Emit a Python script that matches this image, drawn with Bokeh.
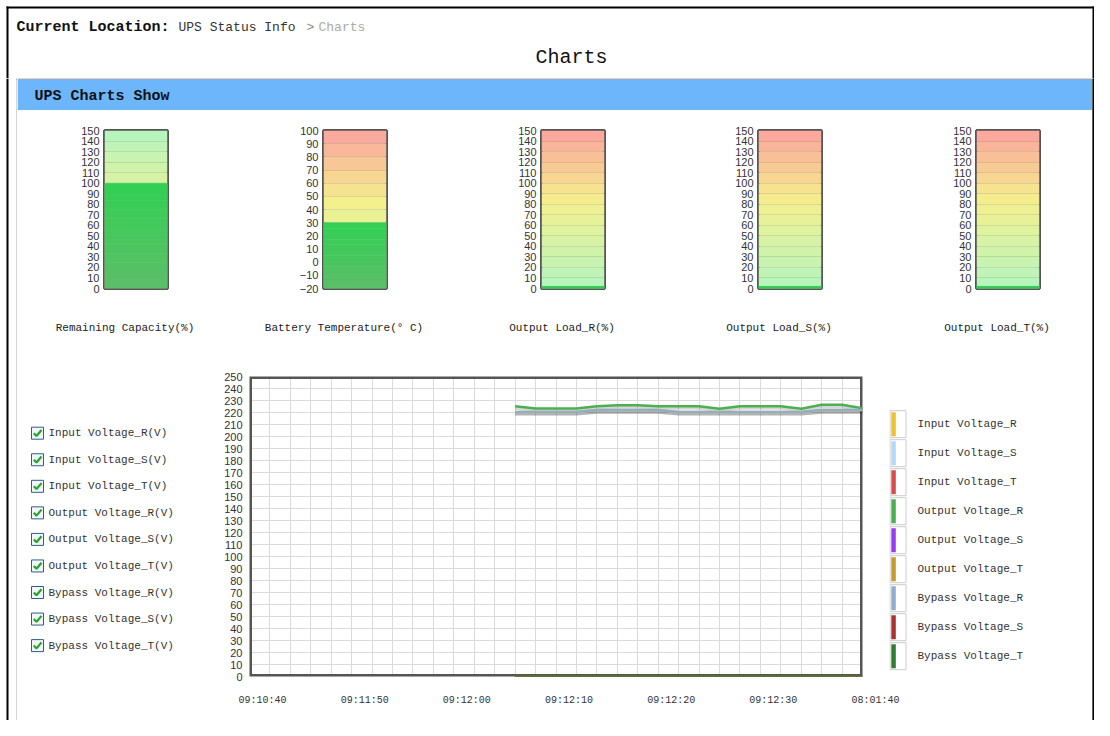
from bokeh.plotting import figure
from bokeh.layouts import row, column
from bokeh.models import Range1d, FixedTicker
from bokeh.core.properties import value
from bokeh.embed import file_html
from bokeh.resources import INLINE

# ---------------- data ----------------
gauge_titles = ["Remaining Capacity(%)", "Battery Temperature(\u00b0 C)",
                "Output Load_R(%)", "Output Load_S(%)", "Output Load_T(%)"]
gauge_values = [100, 30, 2, 2, 2]
gauge_min = [0, -20, 0, 0, 0]
gauge_max = [150, 100, 150, 150, 150]
gauge_step = 10

series_names = ["Input Voltage_R", "Input Voltage_S", "Input Voltage_T",
                "Output Voltage_R", "Output Voltage_S", "Output Voltage_T",
                "Bypass Voltage_R", "Bypass Voltage_S", "Bypass Voltage_T"]
series_colors = ["#f2c12e", "#b3d9f7", "#d94c4c", "#4caf50", "#9b3af7",
                 "#c49b2c", "#8eaed0", "#aa3333", "#2e7d32"]

slot_count = 30
sample_index = list(range(13, 31))
input_voltage_r = [220.5, 220.5, 220.5, 220.5, 222, 222, 222, 222, 220.5, 220.5,
                   220.5, 220.5, 220.5, 220.5, 220.5, 222, 222, 222]
input_voltage_s = [0] * 18
input_voltage_t = [0] * 18
output_voltage_r = [225.3, 223.3, 223.3, 223.3, 225.3, 226.1, 226.1, 225.3, 225.3,
                    225.3, 223.1, 225.3, 225.3, 225.3, 223.1, 226.4, 226.4, 223.6]
output_voltage_s = [0] * 18
output_voltage_t = [0] * 18
bypass_voltage_r = [220.5, 220.5, 220.5, 220.5, 222, 222, 222, 222, 220.5, 220.5,
                    220.5, 220.5, 220.5, 220.5, 220.5, 222, 222, 222]
bypass_voltage_s = [0] * 18
bypass_voltage_t = [0] * 18
series_values = [input_voltage_r, input_voltage_s, input_voltage_t,
                 output_voltage_r, output_voltage_s, output_voltage_t,
                 bypass_voltage_r, bypass_voltage_s, bypass_voltage_t]

chart_y_min, chart_y_max = 0, 250
chart_y_ticks = list(range(0, 251, 10))
x_tick_positions = [0, 5, 10, 15, 20, 25, 30]
x_tick_labels = ["09:10:40", "09:11:50", "09:12:00", "09:12:10",
                 "09:12:20", "09:12:30", "08:01:40"]

MONO = "Liberation Mono"
SANS = "Liberation Sans"


def canvas(w, h, bg="white"):
    p = figure(width=w, height=h, x_range=Range1d(0, w), y_range=Range1d(h, 0),
               x_axis_type=None, y_axis_type=None, toolbar_location=None, tools="",
               output_backend="svg", min_border=0, title=None)
    p.outline_line_color = None
    p.background_fill_color = bg
    p.border_fill_color = bg
    return p


def txt(p, x, y, s, size, color="#222", bold=False, align="left", font=MONO):
    p.text(x=[x], y=[y], text=[s], text_font=value(font), text_font_size=size,
           text_font_style="bold" if bold else "normal", text_color=color,
           text_align=align, text_baseline="middle")


def quiet_axis(ax, font, size, standoff):
    ax.major_tick_out = 0
    ax.major_tick_in = 0
    ax.minor_tick_out = 0
    ax.minor_tick_in = 0
    ax.axis_line_color = None
    ax.major_label_standoff = standoff
    ax.major_label_text_font = font
    ax.major_label_text_font_size = size
    ax.major_label_text_color = "#333333"


# ---------------- header (y 0..78) ----------------
hdr = canvas(1094, 78)
hdr.quad(left=[6, 6, 1092], right=[1094, 8, 1094], top=[6, 6, 6], bottom=[8, 78, 78],
         fill_color="black", line_color=None)
txt(hdr, 16, 27, "Current Location:", "15px", "#111", bold=True)
txt(hdr, 178, 27, "UPS Status Info", "13px", "#333")
txt(hdr, 306, 27, ">", "13px", "#888")
txt(hdr, 318, 27, "Charts", "13px", "#aaa")
txt(hdr, 571, 57, "Charts", "20px", "#111", align="center")

# ---------------- side strips (y 78..720) ----------------
lstrip = canvas(17, 642)
lstrip.quad(left=[6, 16, 16], right=[8, 17, 17], top=[0, 0, 0], bottom=[642, 642, 1],
            fill_color=["black", "#b0b0b0", "#5a5a5a"], line_color=None)
rstrip = canvas(2, 642, bg="black")
rstrip.quad(left=[0], right=[2], top=[0], bottom=[642], fill_color="black", line_color=None)

# ---------------- blue band ----------------
band = canvas(1075, 32)
band.quad(left=[0, 0], right=[1075, 1075], top=[0, 1], bottom=[1, 32],
          fill_color=["#5a5a5a", "#6db6fb"], line_color=None)
txt(band, 17, 18, "UPS Charts Show", "15px", "#111", bold=True)

# ---------------- gauges ----------------
G = (180, 245, 192)
Y = (245, 240, 140)
R = (251, 163, 158)


def mix(c1, c2, t):
    return "#%02x%02x%02x" % tuple(int(round(a + (b - a) * t)) for a, b in zip(c1, c2))


def grad(t):
    if t < 0.55:
        return mix(G, Y, t / 0.55)
    return mix(Y, R, (t - 0.55) / 0.45)


gauge_widths = [219, 218, 217, 218, 203]
gauges = []
for i, w in enumerate(gauge_widths):
    lo, hi = gauge_min[i], gauge_max[i]
    ticks = list(range(lo, hi + 1, gauge_step))
    p = figure(width=w, height=190, x_range=Range1d(0, 1), y_range=Range1d(lo, hi),
               x_axis_type=None, toolbar_location=None, tools="", output_backend="svg",
               min_border=0, min_border_left=87, min_border_right=w - 150,
               min_border_top=20, min_border_bottom=12, title=None)
    p.background_fill_color = "white"
    p.border_fill_color = "white"
    p.outline_line_color = "#555555"
    p.outline_line_width = 3
    ax = p.yaxis[0]
    ax.ticker = FixedTicker(ticks=ticks)
    quiet_axis(ax, SANS, "11px", 5)
    p.ygrid.ticker = FixedTicker(ticks=ticks)
    p.ygrid.grid_line_color = "#000000"
    p.ygrid.grid_line_alpha = 0.1
    cols = []
    for b, t in zip(ticks[:-1], ticks[1:]):
        f = ((b + t) / 2 - lo) / (hi - lo)
        cols.append(grad(1 - f) if i == 0 else grad(f))
    r = p.quad(left=0, right=1, bottom=ticks[:-1], top=ticks[1:], fill_color=cols, line_color=None)
    r.level = "image"
    # filled level bar, shaded from a muted green at the base to a bright green at its top
    v = gauge_values[i]
    n = 12
    edges = [lo + (v - lo) * k / n for k in range(n + 1)]
    shades = [mix((92, 190, 105), (50, 208, 84), (k + 0.5) / n) for k in range(n)]
    p.quad(left=0, right=1, bottom=edges[:-1], top=edges[1:], fill_color=shades,
           line_color=shades, line_width=0.5)
    gauges.append(p)

# gauge captions (y 300..341)
cap = canvas(1075, 41)
starts = [0]
for w in gauge_widths[:-1]:
    starts.append(starts[-1] + w)
cap.text(x=[s + 87 + 31.5 - 11 for s in starts], y=[27] * 5, text=gauge_titles,
         text_font=value(MONO), text_font_size="11px", text_color="#222",
         text_align="center", text_baseline="middle")

sep = canvas(1075, 1, bg="#9a9a9a")
sep.quad(left=[0], right=[1075], top=[0], bottom=[1], fill_color="#9a9a9a", line_color=None)
bottom = canvas(1075, 1, bg="#a8a8a8")
bottom.quad(left=[0], right=[1075], top=[0], bottom=[1], fill_color="#a8a8a8", line_color=None)

# ---------------- checkboxes (y 342..719) ----------------
cb = canvas(183, 377)
cb_y = [90.7 + 26.55 * k for k in range(len(series_names))]
cb.rect(x=[20] * len(cb_y), y=cb_y, width=12, height=12, fill_color="#f3f6f9",
        line_color="#2a5f8c", line_width=1)
cb.multi_line(xs=[[16.3, 19, 24] for _ in cb_y], ys=[[y, y + 2.8, y - 3.2] for y in cb_y],
              line_color="#22a52a", line_width=2.2)
cb.text(x=[31] * len(cb_y), y=cb_y, text=[n + "(V)" for n in series_names],
        text_font=value(MONO), text_font_size="11px", text_color="#333",
        text_baseline="middle", text_align="left")

# ---------------- line chart ----------------
CH_TOP, CH_FRAME, CH_BOT = 34, 300, 8
ch = figure(width=689, height=CH_TOP + CH_FRAME + CH_BOT, x_range=Range1d(0, slot_count),
            y_range=Range1d(chart_y_min, chart_y_max), x_axis_location=None,
            toolbar_location=None, tools="", output_backend="svg", min_border=0,
            min_border_left=49, min_border_right=27, min_border_top=CH_TOP,
            min_border_bottom=CH_BOT, title=None)
ch.background_fill_color = "white"
ch.border_fill_color = "white"
ch.outline_line_color = None
cy = ch.yaxis[0]
cy.ticker = FixedTicker(ticks=chart_y_ticks)
quiet_axis(cy, SANS, "11px", 7)
ch.ygrid.ticker = FixedTicker(ticks=chart_y_ticks)
ch.xgrid.ticker = FixedTicker(ticks=list(range(0, slot_count + 1)))
ch.grid.grid_line_color = "#dadada"
# plot-area border drawn beneath the series so that the series sit on top of it
ch.quad(left=[0], right=[slot_count], bottom=[chart_y_min], top=[chart_y_max],
        fill_color=None, line_color="#555555", line_width=5)
ch.extra_y_ranges = {"shadow": Range1d(chart_y_min + 1.7, chart_y_max + 1.7)}
for vals in series_values:
    ch.line(sample_index, vals, y_range_name="shadow", line_color="black",
            line_alpha=0.16, line_width=3)
for vals, c in zip(series_values, series_colors):
    ch.line(sample_index, vals, line_color=c, line_width=2.5)

# ---------------- legend (frame aligned with the chart frame) ----------------
lg = figure(width=203, height=CH_TOP + CH_FRAME + CH_BOT, x_range=Range1d(0, 203),
            y_range=Range1d(CH_TOP + CH_FRAME, CH_TOP), x_axis_type=None, y_axis_type=None,
            toolbar_location=None, tools="", output_backend="svg", min_border=0,
            min_border_top=CH_TOP, min_border_bottom=CH_BOT, title=None)
lg.outline_line_color = None
lg.background_fill_color = "white"
lg.border_fill_color = "white"
lg_y = [81.7 + 29 * k for k in range(len(series_names))]
lg.quad(left=0.5, right=16.5, top=[y - 13.5 for y in lg_y], bottom=[y + 13.5 for y in lg_y],
        fill_color="white", line_color="#cccccc", line_width=1)
lg.quad(left=1.8, right=6.3, top=[y - 12 for y in lg_y], bottom=[y + 12 for y in lg_y],
        fill_color=series_colors, line_color=None)
lg.text(x=[28] * len(lg_y), y=lg_y, text=series_names, text_font=value(MONO),
        text_font_size="11px", text_color="#333", text_baseline="middle", text_align="left")

# ---------------- x labels ----------------
unit_px = 613 / slot_count
shift = 13 / unit_px
xl_frame = 892 - 49 - 10
xl = figure(width=892, height=35, x_range=Range1d(-shift, -shift + xl_frame / unit_px),
            y_range=Range1d(0, 1), y_axis_type=None, toolbar_location=None, tools="",
            output_backend="svg", min_border=0, min_border_left=49, min_border_right=10,
            min_border_top=0, min_border_bottom=34, title=None)
xl.background_fill_color = "white"
xl.border_fill_color = "white"
xl.outline_line_color = None
xl.xgrid.visible = False
xa = xl.xaxis[0]
xa.ticker = FixedTicker(ticks=x_tick_positions)
xa.major_label_overrides = {float(k): v for k, v in zip(x_tick_positions, x_tick_labels)}
quiet_axis(xa, MONO, "10px", 9)

chart_row = row(cb, column(row(ch, lg), xl))
gauge_block = column(row(*gauges), cap)
middle = column(band, gauge_block, sep, chart_row, bottom)
root = column(hdr, row(lstrip, middle, rstrip))

open("out.html", "w").write(file_html(root, INLINE))
